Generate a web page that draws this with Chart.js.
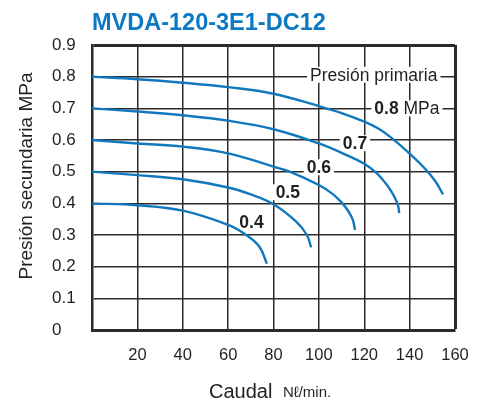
<!DOCTYPE html>
<html>
<head>
<meta charset="utf-8">
<script src="https://cdn.jsdelivr.net/npm/chart.js@4/dist/chart.umd.min.js"></script>
<style>
  html, body { margin: 0; padding: 0; background: #fff; }
  #wrap { width: 485px; height: 401px; }
</style>
</head>
<body>
<div id="wrap"><canvas id="myChart" width="485" height="401"></canvas></div>
<script>
"use strict";

// primary pressures (MPa) and the curves
const primary = ['0.8', '0.7', '0.6', '0.5', '0.4'];

const flow08 = [0, 20, 40, 60, 80, 100, 110, 120, 126, 131.6, 140, 147.1, 151.5, 154.7];
const pres08 = [0.80, 0.792, 0.781, 0.767, 0.746, 0.707, 0.685, 0.658, 0.637, 0.609, 0.557, 0.507, 0.468, 0.428];

const flow07 = [0, 20, 40, 60, 80, 100, 112, 120, 125.7, 130.1, 133.1, 134.9, 135.4];
const pres07 = [0.70, 0.690, 0.678, 0.661, 0.634, 0.589, 0.553, 0.525, 0.494, 0.457, 0.423, 0.393, 0.369];

const flow06 = [0, 20, 40, 60, 80, 87.1, 100, 106, 110, 113, 115, 115.9];
const pres06 = [0.60, 0.589, 0.579, 0.558, 0.516, 0.50, 0.458, 0.430, 0.403, 0.375, 0.347, 0.316];

const flow05 = [0, 20, 40, 60, 70, 80, 90, 94.7, 96.6];
const pres05 = [0.50, 0.489, 0.476, 0.450, 0.428, 0.397, 0.342, 0.30, 0.261];

const flow04 = [0, 20, 40, 60, 68, 73.8, 77.1];
const pres04 = [0.40, 0.394, 0.377, 0.332, 0.30, 0.263, 0.209];

// curve labels (data coordinates)
const labelX = [124.2, 138.8, 115.9, 100, 86.3, 70.3];
const labelY = [0.806, 0.70, 0.59, 0.514, 0.435, 0.341];

const blue = '#1278be';
const ink = '#231f20';
const gridCol = '#2e2929';
const fam = "'Liberation Sans', Arial, sans-serif";

Chart.defaults.font.family = fam;
Chart.defaults.color = ink;

function pts(xs, ys) {
  return xs.map((x, i) => ({ x: x, y: ys[i] }));
}

const curves = [
  pts(flow08, pres08), pts(flow07, pres07), pts(flow06, pres06),
  pts(flow05, pres05), pts(flow04, pres04)
];

const datasets = curves.map((d, i) => ({
  label: primary[i],
  data: d,
  borderColor: blue,
  borderWidth: 2.4,
  pointRadius: 0,
  fill: false,
  tension: 0.4
}));

// labels with white boxes behind them
const curveLabels = {
  id: 'curveLabels',
  beforeDatasetsDraw(chart) {
    const ctx = chart.ctx;
    const xs = chart.scales.x, ys = chart.scales.y;
    ctx.save();
    ctx.textBaseline = 'middle';
    for (let i = 0; i < labelX.length; i++) {
      const cx = xs.getPixelForValue(labelX[i]);
      const cy = ys.getPixelForValue(labelY[i]);
      let parts;
      if (i === 0) parts = [['Presión primaria', '17.5px ' + fam]];
      else if (i === 1) parts = [['0.8', 'bold 17.5px ' + fam], [' MPa', '17.5px ' + fam]];
      else parts = [[primary[i - 1], 'bold 17.5px ' + fam]];
      let w = 0;
      parts.forEach(p => { ctx.font = p[1]; w += ctx.measureText(p[0]).width; });
      ctx.fillStyle = '#fff';
      ctx.fillRect(cx - w / 2 - 3, cy - 8, w + 6, 16);
      ctx.fillStyle = ink;
      ctx.textAlign = 'left';
      let x0 = cx - w / 2;
      parts.forEach(p => {
        ctx.font = p[1];
        ctx.fillText(p[0], x0, cy + 1);
        x0 += ctx.measureText(p[0]).width;
      });
    }
    ctx.restore();
  }
};

// chart title and axis titles
const texts = {
  id: 'texts',
  afterDraw(chart) {
    const ctx = chart.ctx;
    ctx.save();
    ctx.textBaseline = 'alphabetic';
    ctx.textAlign = 'left';
    ctx.fillStyle = '#0c79c3';
    ctx.font = 'bold 23.5px ' + fam;
    ctx.fillText('MVDA-120-3E1-DC12', 92, 29.5);

    ctx.fillStyle = ink;
    ctx.font = '20px ' + fam;
    ctx.fillText('Caudal', 209, 398);
    ctx.font = '15px ' + fam;
    ctx.fillText('Nℓ/min.', 283, 397);

    ctx.translate(32, 176);
    ctx.rotate(-Math.PI / 2);
    ctx.textAlign = 'center';
    ctx.font = '19px ' + fam;
    ctx.fillText('Presión secundaria MPa', 0, 0);
    ctx.restore();
  }
};

const ctx = document.querySelector('#myChart').getContext('2d');

const config = {
  type: 'line',
  data: { datasets },
  options: {
    responsive: false,
    animation: false,
    layout: { padding: { left: 52, right: 30, top: 45, bottom: 41 } },
    plugins: {
      legend: { display: false },
      title: { display: false },
      tooltip: { enabled: false }
    },
    scales: {
      x: {
        type: 'linear',
        min: 0,
        max: 160,
        afterFit: (s) => { s.height = 30; },
        ticks: {
          stepSize: 20,
          padding: 16,
          color: ink,
          font: { size: 16.5 },
          maxRotation: 0,
          callback: (v) => (v === 0 ? '' : v)
        },
        grid: {
          color: gridCol,
          drawTicks: false,
          lineWidth: (c) => (c.tick && c.tick.value === 160 ? 3 : 1.5)
        },
        border: { color: gridCol, width: 3 }
      },
      y: {
        min: 0,
        max: 0.9,
        afterFit: (s) => { s.width = 40; },
        ticks: {
          stepSize: 0.1,
          padding: 12,
          crossAlign: 'far',
          color: ink,
          font: { size: 17 },
          callback: (v) => (Math.abs(v) < 1e-9 ? '0' : v.toFixed(1))
        },
        grid: {
          color: gridCol,
          drawTicks: false,
          lineWidth: (c) => (c.tick && Math.abs(c.tick.value - 0.9) < 1e-9 ? 3 : 1.5)
        },
        border: { color: gridCol, width: 2.5 }
      }
    }
  },
  plugins: [curveLabels, texts]
};

const myChart = new Chart(ctx, config);
</script>
</body>
</html>
